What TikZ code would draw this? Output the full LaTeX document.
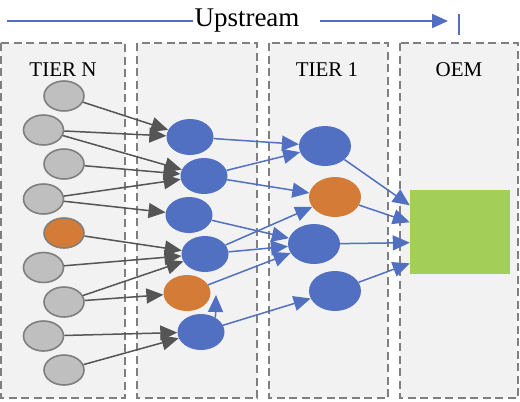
\documentclass[tikz,border=0pt]{standalone}
\usepackage{fontspec}
\setmainfont{Liberation Serif}
\usetikzlibrary{arrows.meta,shapes.geometric}

\definecolor{nodeblue}{RGB}{82,112,193}
\definecolor{nodeorange}{RGB}{212,123,55}
\definecolor{oemgreen}{RGB}{163,206,88}
\definecolor{panelfill}{RGB}{242,242,242}
\definecolor{paneldash}{RGB}{127,127,127}
\definecolor{nodegray}{RGB}{191,191,191}
\definecolor{arrowgray}{RGB}{85,85,85}

\begin{document}
\begin{tikzpicture}[x=1pt,y=-1pt,
	panel/.style={draw=paneldash,fill=panelfill,line width=1.8pt,dash pattern=on 8pt off 4.5pt},
	tierlabel/.style={anchor=base,inner sep=0pt,font=\fontsize{21}{24}\selectfont},
	supplier/.style={ellipse,draw=paneldash,line width=1.6pt,fill=nodegray,minimum width=40pt,minimum height=30pt,inner sep=0pt},
	firm/.style={ellipse,fill=nodeblue,minimum width=47pt,minimum height=36pt,inner sep=0pt},
	tierone/.style={ellipse,fill=nodeblue,minimum width=52pt,minimum height=40pt,inner sep=0pt},
	garrow/.style={-{Triangle[length=17pt,width=15pt]},draw=arrowgray,fill=arrowgray,line width=1.5pt},
	barrow/.style={-{Triangle[length=17pt,width=15pt]},draw=nodeblue,fill=nodeblue,line width=1.5pt}]

	\useasboundingbox (0,0) rectangle (520,402);

	% panels
	\draw[panel] (1,43) rectangle (125,398);
	\draw[panel] (137,43) rectangle (257,398);
	\draw[panel] (269,43) rectangle (388,398);
	\draw[panel] (400,43) rectangle (518,398);

	\node[tierlabel] (tierN) at (63,76) {TIER N};
	\node[tierlabel] (tier1) at (327,76) {TIER 1};
	\node[tierlabel] (oem) at (459,76) {OEM};

	% upstream arrow
	\node[anchor=base,inner sep=0pt,font=\fontsize{27}{30}\selectfont] (up) at (247,26) {Upstream};
	\coordinate (upL) at (7,21);
	\coordinate (upA) at (193,21);
	\coordinate (upB) at (320,21);
	\coordinate (upR) at (448,21);
	\draw[nodeblue,line width=2pt] (upL) -- (upA);
	\draw[nodeblue,line width=2pt,-{Triangle[length=16pt,width=14pt]}] (upB) -- (upR);
	\draw[nodeblue,line width=2pt] (459,14) -- (459,35);

	% tier N
	\node[supplier] (g1) at (64,96) {};
	\node[supplier] (g2) at (43.5,130) {};
	\node[supplier] (g3) at (64,164) {};
	\node[supplier] (g4) at (43.5,199) {};
	\node[supplier, fill=nodeorange] (g5) at (64,233) {};
	\node[supplier] (g6) at (43.5,267.5) {};
	\node[supplier] (g7) at (64,302) {};
	\node[supplier] (g8) at (43.5,336) {};
	\node[supplier] (g9) at (64,370) {};

	% tier 2
	\node[firm] (b1) at (190,137) {};
	\node[firm] (b2) at (204,176) {};
	\node[firm] (b3) at (189,215) {};
	\node[firm] (b4) at (205,254) {};
	\node[firm, fill=nodeorange] (b5) at (187,293) {};
	\node[firm] (b6) at (201,332) {};

	% tier 1
	\node[tierone] (t1) at (325,146) {};
	\node[tierone, fill=nodeorange] (t2) at (335,197) {};
	\node[tierone] (t3) at (314,244) {};
	\node[tierone] (t4) at (335,291) {};

	% OEM
	\node[fill=oemgreen,minimum width=100pt,minimum height=84pt,inner sep=0pt] (car) at (460,232) {};

	\path[garrow] (g1) edge (b1);
	\path[garrow] (g2) edge (b1);
	\path[garrow] (g2) edge (b2);
	\path[garrow] (g3) edge (b2);
	\path[garrow] (g4) edge (b2);
	\path[garrow] (g4) edge (b3);
	\path[garrow] (g5) edge (b4);
	\path[garrow] (g6) edge (b4);
	\path[garrow] (g7) edge (b4);
	\path[garrow] (g7) edge (b5);
	\path[garrow] (g8) edge (b6);
	\path[garrow] (g9) edge (b6);

	\path[barrow] (b1) edge (t1);
	\path[barrow] (b2) edge (t1);
	\path[barrow] (b2) edge (t2);
	\path[barrow] (b3) edge (t3);
	\path[barrow] (b4) edge (t2);
	\path[barrow] (b4) edge (t3);
	\path[barrow] (b5) edge (t3);
	\path[barrow] (b6) edge (t4);
	\coordinate (b5tip) at (216,295);
	\path[barrow] (b6.45) edge (b5tip);

	\path[barrow] (t1) edge (car.152);
	\path[barrow] (t2) edge (car.169);
	\path[barrow] (t3) edge (car.192);
	\path[barrow] (t4) edge (car.212);

\end{tikzpicture}
\end{document}
